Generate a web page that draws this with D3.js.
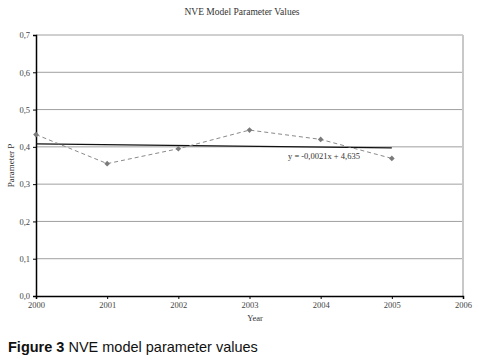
<!DOCTYPE html>
<html><head><meta charset="utf-8">
<script src="https://cdn.jsdelivr.net/npm/d3@7"></script>
<style>body{margin:0;background:#fff}svg{display:block}</style>
</head><body>
<svg id="c" width="479" height="360"></svg>
<script>
const years = [2000, 2001, 2002, 2003, 2004, 2005];
const values = [0.433, 0.355, 0.395, 0.445, 0.420, 0.369];
const xTicks = [2000, 2001, 2002, 2003, 2004, 2005, 2006];
const yTicks = [0, 0.1, 0.2, 0.3, 0.4, 0.5, 0.6, 0.7];
const trendLabel = "y = -0,0021x + 4,635";

const svg = d3.select("#c");
const x = d3.scaleLinear().domain([2000, 2006]).range([36, 463]);
const y = d3.scaleLinear().domain([0, 0.7]).range([296, 35]);
const fmt = d => d3.format(".1f")(d).replace(".", ",");

// gridlines
svg.append("g").selectAll("line").data(yTicks.filter(d => d > 0)).join("line")
  .attr("x1", x(2000)).attr("x2", x(2006))
  .attr("y1", d => y(d)).attr("y2", d => y(d))
  .attr("stroke", "#a0a0a0").attr("stroke-width", 1);
// right border
svg.append("line").attr("x1", x(2006)).attr("x2", x(2006)).attr("y1", y(0.7)).attr("y2", y(0))
  .attr("stroke", "#c8c8c8").attr("stroke-width", 2);

// axes
const yAxis = svg.append("g").attr("transform", `translate(${x(2000)},0)`)
  .call(d3.axisLeft(y).tickValues(yTicks).tickFormat(fmt).tickSize(3));
const xAxis = svg.append("g").attr("transform", `translate(0,${y(0)})`)
  .call(d3.axisBottom(x).tickValues(xTicks).tickFormat(d3.format("d")).tickSize(3));
[yAxis, xAxis].forEach(a => {
  a.select(".domain").attr("stroke", "#000").attr("stroke-width", 1.5);
  a.selectAll(".tick line").attr("stroke", "#000");
  a.selectAll("text").attr("font-family", "Liberation Serif, serif").attr("font-size", 8.5).attr("fill", "#444");
});
yAxis.selectAll("text").attr("x", -6);
xAxis.selectAll("text").attr("y", 6);

// trend line (least squares)
const n = years.length, mx = d3.mean(years), my = d3.mean(values);
const slope = d3.sum(years, (d, i) => (d - mx) * (values[i] - my)) / d3.sum(years, d => (d - mx) ** 2);
const icpt = my - slope * mx;
svg.append("line")
  .attr("x1", x(years[0])).attr("x2", x(years[n - 1]))
  .attr("y1", y(icpt + slope * years[0])).attr("y2", y(icpt + slope * years[n - 1]))
  .attr("stroke", "#111").attr("stroke-width", 1.3);

// data line
const pts = years.map((d, i) => [d, values[i]]);
svg.append("path").datum(pts)
  .attr("d", d3.line().x(d => x(d[0])).y(d => y(d[1])))
  .attr("fill", "none").attr("stroke", "#8a8a8a").attr("stroke-width", 1)
  .attr("stroke-dasharray", "4,3");
svg.append("g").selectAll("path").data(pts).join("path")
  .attr("transform", d => `translate(${x(d[0])},${y(d[1])}) rotate(45)`)
  .attr("d", d3.symbol(d3.symbolSquare, 16))
  .attr("fill", "#7a7a7a");

// trend label
svg.append("text").attr("x", 288).attr("y", 159).text(trendLabel)
  .attr("font-family", "Liberation Serif, serif").attr("font-size", 8.5).attr("fill", "#333");

// titles
svg.append("text").attr("x", 242).attr("y", 15).attr("text-anchor", "middle")
  .attr("font-family", "Liberation Serif, serif").attr("font-size", 9.5).attr("fill", "#333")
  .text("NVE Model Parameter Values");
svg.append("text").attr("x", 255).attr("y", 321).attr("text-anchor", "middle")
  .attr("font-family", "Liberation Serif, serif").attr("font-size", 8.5).attr("fill", "#333")
  .text("Year");
svg.append("text").attr("transform", `translate(14,${y(0.35)}) rotate(-90)`).attr("text-anchor", "middle")
  .attr("font-family", "Liberation Serif, serif").attr("font-size", 9).attr("fill", "#333")
  .text("Parameter P");

// caption
const cap = svg.append("text").attr("x", 8).attr("y", 352)
  .attr("font-family", "Liberation Sans, Arial, sans-serif").attr("font-size", 14.5).attr("fill", "#111");
cap.append("tspan").attr("font-weight", "bold").text("Figure 3");
cap.append("tspan").text(" NVE model parameter values");
</script>
</body></html>
